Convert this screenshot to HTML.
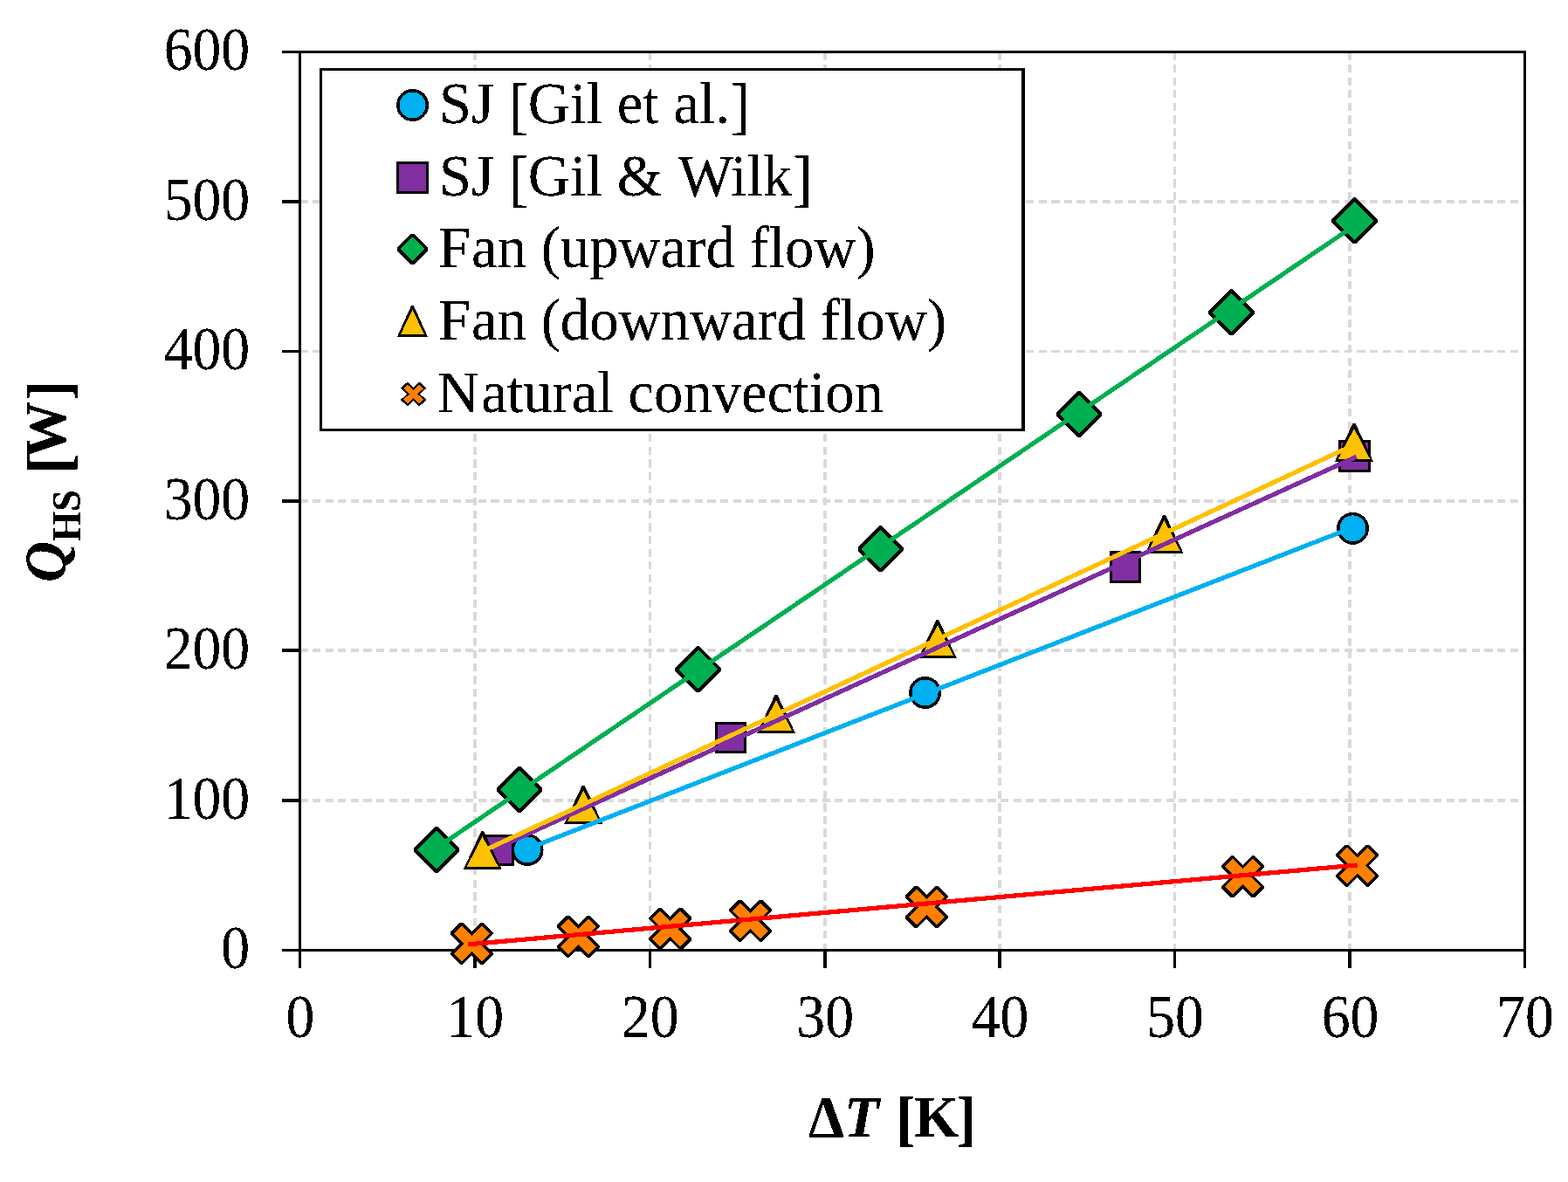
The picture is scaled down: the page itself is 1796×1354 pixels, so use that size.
<!DOCTYPE html>
<html lang="en"><head><meta charset="utf-8"><title>Q_HS [W] vs ΔT [K]</title>
<style>
html,body{margin:0;padding:0;background:#fff;}
body{width:1796px;height:1354px;overflow:hidden;}
svg{display:block;}
text{font-family:"Liberation Serif", "DejaVu Serif", serif;fill:#000;font-size:66.67px;}
.ti{font-weight:bold;}
.grid line{stroke:#d9d9d9;stroke-width:3.7;stroke-dasharray:9.2 5.39;}
.ax line,.ax rect{stroke:#000;stroke-width:3;fill:none;}
.k{fill:#000;}
.ln{fill:none;stroke-width:5.2;stroke-linecap:butt;}
</style></head><body>
<svg width="1796" height="1354" viewBox="0 0 1796 1354">
<defs><filter id="bw" x="-5%" y="-20%" width="110%" height="140%" color-interpolation-filters="sRGB"><feComponentTransfer><feFuncA type="discrete" tableValues="0 0 1 1 1"/></feComponentTransfer></filter></defs>
<rect x="0" y="0" width="1796" height="1354" fill="#ffffff"/>
<g class="grid" shape-rendering="crispEdges">
<line x1="343.5" y1="917.00" x2="1746.5" y2="917.00"/>
<line x1="343.5" y1="745.30" x2="1746.5" y2="745.30"/>
<line x1="343.5" y1="574.00" x2="1746.5" y2="574.00"/>
<line x1="343.5" y1="402.40" x2="1746.5" y2="402.40"/>
<line x1="343.5" y1="231.00" x2="1746.5" y2="231.00"/>
<line x1="543.93" y1="59.5" x2="543.93" y2="1088.5"/>
<line x1="744.36" y1="59.5" x2="744.36" y2="1088.5"/>
<line x1="944.79" y1="59.5" x2="944.79" y2="1088.5"/>
<line x1="1145.21" y1="59.5" x2="1145.21" y2="1088.5"/>
<line x1="1345.64" y1="59.5" x2="1345.64" y2="1088.5"/>
<line x1="1546.07" y1="59.5" x2="1546.07" y2="1088.5"/>
</g>
<g class="ax" shape-rendering="crispEdges">
<rect x="343.5" y="59.5" width="1403.0" height="1029.0"/>
<line style="stroke-width:3.7" x1="323.0" y1="1088.50" x2="343.5" y2="1088.50"/>
<line style="stroke-width:3.7" x1="323.0" y1="917.00" x2="343.5" y2="917.00"/>
<line style="stroke-width:3.7" x1="323.0" y1="745.30" x2="343.5" y2="745.30"/>
<line style="stroke-width:3.7" x1="323.0" y1="574.00" x2="343.5" y2="574.00"/>
<line style="stroke-width:3.7" x1="323.0" y1="402.40" x2="343.5" y2="402.40"/>
<line style="stroke-width:3.7" x1="323.0" y1="231.00" x2="343.5" y2="231.00"/>
<line style="stroke-width:3.7" x1="323.0" y1="59.50" x2="343.5" y2="59.50"/>
<line style="stroke-width:3.7" x1="343.50" y1="1088.5" x2="343.50" y2="1109.0"/>
<line style="stroke-width:3.7" x1="543.93" y1="1088.5" x2="543.93" y2="1109.0"/>
<line style="stroke-width:3.7" x1="744.36" y1="1088.5" x2="744.36" y2="1109.0"/>
<line style="stroke-width:3.7" x1="944.79" y1="1088.5" x2="944.79" y2="1109.0"/>
<line style="stroke-width:3.7" x1="1145.21" y1="1088.5" x2="1145.21" y2="1109.0"/>
<line style="stroke-width:3.7" x1="1345.64" y1="1088.5" x2="1345.64" y2="1109.0"/>
<line style="stroke-width:3.7" x1="1546.07" y1="1088.5" x2="1546.07" y2="1109.0"/>
<line style="stroke-width:3.7" x1="1746.50" y1="1088.5" x2="1746.50" y2="1109.0"/>
</g>
<g id="legend-box" shape-rendering="crispEdges"><rect class="k" x="366" y="78" width="808" height="416"/><rect fill="#ffffff" x="369" y="81" width="801" height="410"/></g>
<g id="markers" shape-rendering="crispEdges">
<path class="k" d="M498.45 999.90L473.95 975.40L473.95 971.60L498.45 947.10L501.65 947.10L526.15 971.60L526.15 975.40L501.65 999.90Z"/><path fill="#00b050" d="M500.05 951.40L522.15 973.50L500.05 995.60L477.95 973.50Z"/>
<path class="k" d="M593.40 931.00L568.90 906.50L568.90 902.70L593.40 878.20L596.60 878.20L621.10 902.70L621.10 906.50L596.60 931.00Z"/><path fill="#00b050" d="M595.00 882.50L617.10 904.60L595.00 926.70L572.90 904.60Z"/>
<path class="k" d="M797.95 793.05L773.45 768.55L773.45 764.75L797.95 740.25L801.15 740.25L825.65 764.75L825.65 768.55L801.15 793.05Z"/><path fill="#00b050" d="M799.55 744.55L821.65 766.65L799.55 788.75L777.45 766.65Z"/>
<path class="k" d="M1007.00 655.20L982.50 630.70L982.50 626.90L1007.00 602.40L1010.20 602.40L1034.70 626.90L1034.70 630.70L1010.20 655.20Z"/><path fill="#00b050" d="M1008.60 606.70L1030.70 628.80L1008.60 650.90L986.50 628.80Z"/>
<path class="k" d="M1234.35 500.65L1209.85 476.15L1209.85 472.35L1234.35 447.85L1237.55 447.85L1262.05 472.35L1262.05 476.15L1237.55 500.65Z"/><path fill="#00b050" d="M1235.95 452.15L1258.05 474.25L1235.95 496.35L1213.85 474.25Z"/>
<path class="k" d="M1408.80 384.25L1384.30 359.75L1384.30 355.95L1408.80 331.45L1412.00 331.45L1436.50 355.95L1436.50 359.75L1412.00 384.25Z"/><path fill="#00b050" d="M1410.40 335.75L1432.50 357.85L1410.40 379.95L1388.30 357.85Z"/>
<path class="k" d="M1549.80 279.20L1525.30 254.70L1525.30 250.90L1549.80 226.40L1553.00 226.40L1577.50 250.90L1577.50 254.70L1553.00 279.20Z"/><path fill="#00b050" d="M1551.40 230.70L1573.50 252.80L1551.40 274.90L1529.30 252.80Z"/>
<rect class="k" x="553.0" y="956.0" width="36.0" height="36.0"/><rect fill="#802ea2" x="556.0" y="959.0" width="30.0" height="30.0"/>
<rect class="k" x="819.0" y="827.0" width="36.0" height="36.0"/><rect fill="#802ea2" x="822.0" y="830.0" width="30.0" height="30.0"/>
<rect class="k" x="1271.0" y="631.0" width="36.0" height="37.0"/><rect fill="#802ea2" x="1274.0" y="634.0" width="30.0" height="31.0"/>
<rect class="k" x="1533.0" y="504.0" width="37.0" height="37.0"/><rect fill="#802ea2" x="1536.0" y="507.0" width="31.0" height="31.0"/>
<path class="k" d="M530.65 996.10L551.20 952.30L554.20 952.30L574.75 996.10Z"/><path fill="#ffc000" d="M534.50 993.10L552.70 958.10L570.90 993.10Z"/>
<path class="k" d="M646.15 943.75L666.70 899.95L669.70 899.95L690.25 943.75Z"/><path fill="#ffc000" d="M650.00 940.75L668.20 905.75L686.40 940.75Z"/>
<path class="k" d="M866.95 839.95L887.50 796.15L890.50 796.15L911.05 839.95Z"/><path fill="#ffc000" d="M870.80 836.95L889.00 801.95L907.20 836.95Z"/>
<path class="k" d="M1051.80 754.20L1072.35 710.40L1075.35 710.40L1095.90 754.20Z"/><path fill="#ffc000" d="M1055.65 751.20L1073.85 716.20L1092.05 751.20Z"/>
<path class="k" d="M1311.55 634.00L1332.10 590.20L1335.10 590.20L1355.65 634.00Z"/><path fill="#ffc000" d="M1315.40 631.00L1333.60 596.00L1351.80 631.00Z"/>
<path class="k" d="M1528.95 528.80L1549.50 485.00L1552.50 485.00L1573.05 528.80Z"/><path fill="#ffc000" d="M1532.80 525.80L1551.00 490.80L1569.20 525.80Z"/>
<circle class="k" cx="604.10" cy="973.50" r="18.50"/><circle fill="#00b0f0" cx="604.10" cy="973.50" r="15.00"/>
<circle class="k" cx="1059.60" cy="793.50" r="18.50"/><circle fill="#00b0f0" cx="1059.60" cy="793.50" r="15.00"/>
<circle class="k" cx="1549.50" cy="605.35" r="18.50"/><circle fill="#00b0f0" cx="1549.50" cy="605.35" r="15.00"/>
<path class="k" d="M564.95 1091.85L564.95 1093.76L553.81 1104.90L550.80 1104.90L540.40 1094.50L530.00 1104.90L526.99 1104.90L515.85 1093.76L515.85 1091.85L526.80 1080.90L515.85 1069.95L515.85 1068.04L526.99 1056.90L530.00 1056.90L540.40 1067.30L550.80 1056.90L553.81 1056.90L564.95 1068.04L564.95 1069.95L554.00 1080.90Z"/><path fill="#ff8000" d="M552.00 1060.31L560.99 1069.30L549.39 1080.90L560.99 1092.50L552.00 1101.49L540.40 1089.89L528.80 1101.49L519.81 1092.50L531.41 1080.90L519.81 1069.30L528.80 1060.31L540.40 1071.91Z"/>
<path class="k" d="M687.00 1083.85L687.00 1085.76L675.86 1096.90L672.85 1096.90L662.45 1086.50L652.05 1096.90L649.04 1096.90L637.90 1085.76L637.90 1083.85L648.85 1072.90L637.90 1061.95L637.90 1060.04L649.04 1048.90L652.05 1048.90L662.45 1059.30L672.85 1048.90L675.86 1048.90L687.00 1060.04L687.00 1061.95L676.05 1072.90Z"/><path fill="#ff8000" d="M674.05 1052.31L683.04 1061.30L671.44 1072.90L683.04 1084.50L674.05 1093.49L662.45 1081.89L650.85 1093.49L641.86 1084.50L653.46 1072.90L641.86 1061.30L650.85 1052.31L662.45 1063.91Z"/>
<path class="k" d="M792.15 1074.95L792.15 1076.86L781.01 1088.00L778.00 1088.00L767.60 1077.60L757.20 1088.00L754.19 1088.00L743.05 1076.86L743.05 1074.95L754.00 1064.00L743.05 1053.05L743.05 1051.14L754.19 1040.00L757.20 1040.00L767.60 1050.40L778.00 1040.00L781.01 1040.00L792.15 1051.14L792.15 1053.05L781.20 1064.00Z"/><path fill="#ff8000" d="M779.20 1043.41L788.19 1052.40L776.59 1064.00L788.19 1075.60L779.20 1084.59L767.60 1072.99L756.00 1084.59L747.01 1075.60L758.61 1064.00L747.01 1052.40L756.00 1043.41L767.60 1055.01Z"/>
<path class="k" d="M884.05 1065.85L884.05 1067.76L872.91 1078.90L869.90 1078.90L859.50 1068.50L849.10 1078.90L846.09 1078.90L834.95 1067.76L834.95 1065.85L845.90 1054.90L834.95 1043.95L834.95 1042.04L846.09 1030.90L849.10 1030.90L859.50 1041.30L869.90 1030.90L872.91 1030.90L884.05 1042.04L884.05 1043.95L873.10 1054.90Z"/><path fill="#ff8000" d="M871.10 1034.31L880.09 1043.30L868.49 1054.90L880.09 1066.50L871.10 1075.49L859.50 1063.89L847.90 1075.49L838.91 1066.50L850.51 1054.90L838.91 1043.30L847.90 1034.31L859.50 1045.91Z"/>
<path class="k" d="M1085.95 1049.95L1085.95 1051.86L1074.81 1063.00L1071.80 1063.00L1061.40 1052.60L1051.00 1063.00L1047.99 1063.00L1036.85 1051.86L1036.85 1049.95L1047.80 1039.00L1036.85 1028.05L1036.85 1026.14L1047.99 1015.00L1051.00 1015.00L1061.40 1025.40L1071.80 1015.00L1074.81 1015.00L1085.95 1026.14L1085.95 1028.05L1075.00 1039.00Z"/><path fill="#ff8000" d="M1073.00 1018.41L1081.99 1027.40L1070.39 1039.00L1081.99 1050.60L1073.00 1059.59L1061.40 1047.99L1049.80 1059.59L1040.81 1050.60L1052.41 1039.00L1040.81 1027.40L1049.80 1018.41L1061.40 1030.01Z"/>
<path class="k" d="M1448.05 1015.25L1448.05 1017.16L1436.91 1028.30L1433.90 1028.30L1423.50 1017.90L1413.10 1028.30L1410.09 1028.30L1398.95 1017.16L1398.95 1015.25L1409.90 1004.30L1398.95 993.35L1398.95 991.44L1410.09 980.30L1413.10 980.30L1423.50 990.70L1433.90 980.30L1436.91 980.30L1448.05 991.44L1448.05 993.35L1437.10 1004.30Z"/><path fill="#ff8000" d="M1435.10 983.71L1444.09 992.70L1432.49 1004.30L1444.09 1015.90L1435.10 1024.89L1423.50 1013.29L1411.90 1024.89L1402.91 1015.90L1414.51 1004.30L1402.91 992.70L1411.90 983.71L1423.50 995.31Z"/>
<path class="k" d="M1579.10 1002.45L1579.10 1004.36L1567.96 1015.50L1564.95 1015.50L1554.55 1005.10L1544.15 1015.50L1541.14 1015.50L1530.00 1004.36L1530.00 1002.45L1540.95 991.50L1530.00 980.55L1530.00 978.64L1541.14 967.50L1544.15 967.50L1554.55 977.90L1564.95 967.50L1567.96 967.50L1579.10 978.64L1579.10 980.55L1568.15 991.50Z"/><path fill="#ff8000" d="M1566.15 970.91L1575.14 979.90L1563.54 991.50L1575.14 1003.10L1566.15 1012.09L1554.55 1000.49L1542.95 1012.09L1533.96 1003.10L1545.56 991.50L1533.96 979.90L1542.95 970.91L1554.55 982.51Z"/>
</g>
<g id="lines" shape-rendering="crispEdges">
<line class="ln" stroke="#00b050" x1="500.0" y1="971.3" x2="1551.4" y2="258.5"/>
<line class="ln" stroke="#802ea2" x1="570.5" y1="970.8" x2="1553.8" y2="523.2"/>
<line class="ln" stroke="#ffc000" x1="552.7" y1="975.2" x2="1551.0" y2="509.6"/>
<line class="ln" stroke="#00b0f0" x1="604.1" y1="972.3" x2="1549.5" y2="604.2"/>
<line class="ln" stroke="#ff0000" x1="536.1" y1="1081.9" x2="1554.6" y2="991.0"/>
</g>
<g id="legend-markers" shape-rendering="crispEdges">
<circle class="k" cx="472.55" cy="120.50" r="18.50"/><circle fill="#00b0f0" cx="472.55" cy="120.50" r="15.00"/>
<rect class="k" x="454.0" y="185.0" width="37.0" height="37.0"/><rect fill="#802ea2" x="457.0" y="188.0" width="31.0" height="31.0"/>
<path class="k" d="M470.45 302.95L454.95 287.45L454.95 283.35L470.45 267.85L474.55 267.85L490.05 283.35L490.05 287.45L474.55 302.95Z"/><path fill="#00b050" d="M472.50 271.50L486.40 285.40L472.50 299.30L458.60 285.40Z"/>
<path class="k" d="M454.95 385.85L471.15 349.95L473.75 349.95L489.95 385.85Z"/><path fill="#ffc000" d="M458.85 383.10L472.45 354.85L486.05 383.10Z"/>
<path class="k" d="M488.10 457.95L488.10 458.11L480.88 465.05L479.90 465.05L473.55 458.95L467.20 465.05L466.22 465.05L459.00 458.11L459.00 457.95L465.75 451.45L459.00 444.95L459.00 444.79L466.22 437.85L467.20 437.85L473.55 443.95L479.90 437.85L480.88 437.85L488.10 444.79L488.10 444.95L481.35 451.45Z"/><path fill="#ff8000" d="M479.95 440.63L484.80 445.30L478.40 451.45L484.80 457.60L479.95 462.27L473.55 456.12L467.15 462.27L462.30 457.60L468.70 451.45L462.30 445.30L467.15 440.63L473.55 446.78Z"/>
</g>
<g id="legend">
<text filter="url(#bw)" transform="translate(503.00 141.10) scale(1.0000 1.0300)">SJ <tspan font-size="69.2" dy="3.35">[</tspan><tspan dx="-0.85" dy="-3.35">Gil et al.</tspan><tspan font-size="69.2" dy="3.35">]</tspan></text>
<text filter="url(#bw)" transform="translate(503.00 224.10) scale(1.0000 1.0300)">SJ <tspan font-size="69.2" dy="3.35">[</tspan><tspan dx="-0.85" dy="-3.35">Gil &amp; </tspan><tspan dx="1.5">Wilk</tspan><tspan font-size="69.2" dx="0.8" dy="3.35">]</tspan></text>
<text filter="url(#bw)" transform="translate(503.00 306.40) scale(1.0000 1.0300)"><tspan dx="-1">F</tspan><tspan dx="1">an (upward flow)</tspan></text>
<text filter="url(#bw)" transform="translate(503.00 388.60) scale(1.0000 1.0300)"><tspan dx="-1">F</tspan><tspan dx="1">an (downward flow)</tspan></text>
<text filter="url(#bw)" transform="translate(503.00 471.80) scale(1.0000 1.0300)"><tspan dx="-2.2">N</tspan><tspan dx="2.2">atural convection</tspan></text>
</g>
<g id="ticks">
<text filter="url(#bw)" text-anchor="end" transform="translate(286.20 1109.40) scale(0.9850 1.0375)">0</text>
<text filter="url(#bw)" text-anchor="end" transform="translate(286.20 937.90) scale(0.9850 1.0375)">100</text>
<text filter="url(#bw)" text-anchor="end" transform="translate(286.20 766.40) scale(0.9850 1.0375)">200</text>
<text filter="url(#bw)" text-anchor="end" transform="translate(286.20 594.90) scale(0.9850 1.0375)">300</text>
<text filter="url(#bw)" text-anchor="end" transform="translate(286.20 423.40) scale(0.9850 1.0375)">400</text>
<text filter="url(#bw)" text-anchor="end" transform="translate(286.20 251.90) scale(0.9850 1.0375)">500</text>
<text filter="url(#bw)" text-anchor="end" transform="translate(286.20 80.40) scale(0.9850 1.0375)">600</text>
<text filter="url(#bw)" text-anchor="middle" transform="translate(343.90 1187.60) scale(0.9850 1.0375)">0</text>
<text filter="url(#bw)" text-anchor="middle" transform="translate(544.33 1187.60) scale(0.9850 1.0375)">10</text>
<text filter="url(#bw)" text-anchor="middle" transform="translate(744.76 1187.60) scale(0.9850 1.0375)">20</text>
<text filter="url(#bw)" text-anchor="middle" transform="translate(945.19 1187.60) scale(0.9850 1.0375)">30</text>
<text filter="url(#bw)" text-anchor="middle" transform="translate(1145.61 1187.60) scale(0.9850 1.0375)">40</text>
<text filter="url(#bw)" text-anchor="middle" transform="translate(1346.04 1187.60) scale(0.9850 1.0375)">50</text>
<text filter="url(#bw)" text-anchor="middle" transform="translate(1546.47 1187.60) scale(0.9850 1.0375)">60</text>
<text filter="url(#bw)" text-anchor="middle" transform="translate(1746.90 1187.60) scale(0.9850 1.0375)">70</text>
</g>
<text filter="url(#bw)" class="ti" transform="translate(926.00 1301.60) scale(0.9800 1.0300)">Δ<tspan font-style="italic">T</tspan> <tspan font-size="68" dx="3.2" dy="3.55">[</tspan><tspan dx="-1.4" dy="-3.55">K</tspan><tspan font-size="68" dx="-2.2" dy="3.55">]</tspan></text>
<text filter="url(#bw)" class="ti" transform="translate(74.70 667.00) rotate(-90) scale(0.9780 1.0140)"><tspan font-style="italic">Q</tspan><tspan font-size="45" dy="16.5">HS</tspan><tspan dy="-16.5"> </tspan><tspan font-size="69.5" dx="2.5" dy="5">[</tspan><tspan dx="-5" dy="-5">W</tspan><tspan font-size="69.5" dx="1" dy="5">]</tspan></text>
</svg></body></html>
